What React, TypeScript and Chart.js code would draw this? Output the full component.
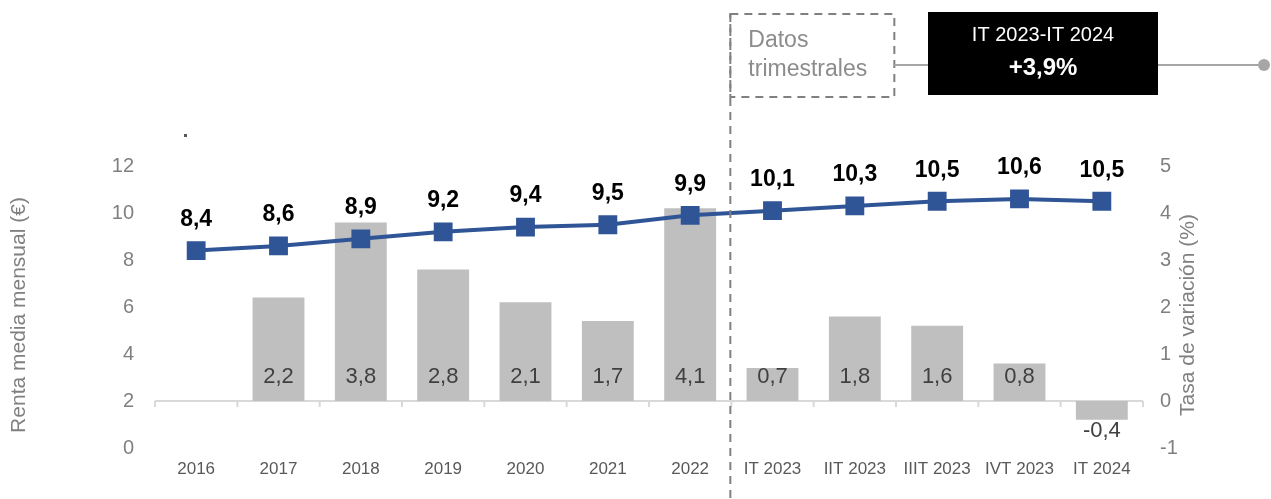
import React, { useEffect, useRef } from "react";
import { Chart, registerables } from "chart.js";

Chart.register(...registerables);

const categories = ["2016", "2017", "2018", "2019", "2020", "2021", "2022", "IT 2023", "IIT 2023", "IIIT 2023", "IVT 2023", "IT 2024"];
const rentaMedia = [8.4, 8.6, 8.9, 9.2, 9.4, 9.5, 9.9, 10.1, 10.3, 10.5, 10.6, 10.5];
const tasaVariacion: (number | null)[] = [null, 2.2, 3.8, 2.8, 2.1, 1.7, 4.1, 0.7, 1.8, 1.6, 0.8, -0.4];
const leftTicks = [0, 2, 4, 6, 8, 10, 12];
const rightTicks = [-1, 0, 1, 2, 3, 4, 5];
const boxTitle = "IT 2023-IT 2024";
const boxValue = "+3,9%";
const noteLines = ["Datos", "trimestrales"];

const FONT = "'Liberation Sans', Arial, sans-serif";
const fmt = (v: number) => v.toFixed(1).replace(".", ",");

const overlayPlugin = {
  id: "overlay",
  beforeDatasetsDraw(chart: any) {
    const ctx = chart.ctx;
    const yR = chart.scales.yR;
    const z = yR.getPixelForValue(0);
    const ca = chart.chartArea;
    ctx.save();
    ctx.strokeStyle = "#d9d9d9";
    ctx.lineWidth = 2;
    ctx.beginPath();
    ctx.moveTo(ca.left, z);
    ctx.lineTo(ca.right, z);
    const n = categories.length;
    const step = (ca.right - ca.left) / n;
    for (let i = 0; i <= n; i++) {
      const px = ca.left + i * step;
      ctx.moveTo(px, z);
      ctx.lineTo(px, z + 6);
    }
    ctx.stroke();
    ctx.restore();
  },
  afterDraw(chart: any) {
    const ctx = chart.ctx;
    const x = chart.scales.x;
    const yR = chart.scales.yR;
    const ca = chart.chartArea;
    const z = yR.getPixelForValue(0);
    ctx.save();

    // line labels
    const lineMeta = chart.getDatasetMeta(1);
    ctx.font = `bold 23px ${FONT}`;
    ctx.fillStyle = "#000000";
    ctx.textAlign = "center";
    ctx.textBaseline = "middle";
    lineMeta.data.forEach((pt: any, i: number) => {
      ctx.fillText(fmt(rentaMedia[i]), pt.x, pt.y - 31);
    });

    // bar labels
    const barMeta = chart.getDatasetMeta(0);
    ctx.font = `22px ${FONT}`;
    ctx.fillStyle = "#404040";
    barMeta.data.forEach((bar: any, i: number) => {
      const v = tasaVariacion[i];
      if (v === null || v === undefined) return;
      const yy = v >= 0 ? z - 24 : bar.y + 11;
      ctx.fillText(fmt(v), bar.x, yy);
    });

    // axis titles
    ctx.fillStyle = "#808080";
    ctx.font = `21px ${FONT}`;
    const midY = (ca.top + ca.bottom) / 2 + 8;
    ctx.save();
    ctx.translate(19, midY);
    ctx.rotate(-Math.PI / 2);
    ctx.fillText("Renta media mensual (€)", 0, 0);
    ctx.restore();
    ctx.save();
    ctx.translate(1188, midY);
    ctx.rotate(-Math.PI / 2);
    ctx.fillText("Tasa de variación (%)", 0, 0);
    ctx.restore();

    // dashed separator
    const sepX = (x.getPixelForValue(6) + x.getPixelForValue(7)) / 2 - 1;
    ctx.strokeStyle = "#808080";
    ctx.lineWidth = 2;
    ctx.setLineDash([8, 6]);
    ctx.beginPath();
    ctx.moveTo(sepX, 14);
    ctx.lineTo(sepX, 499);
    ctx.stroke();
    // dashed note box
    ctx.strokeRect(sepX, 14, 164, 83);
    ctx.setLineDash([]);
    ctx.fillStyle = "#8c8c8c";
    ctx.font = `23px ${FONT}`;
    ctx.textAlign = "left";
    ctx.fillText(noteLines[0], sepX + 18, 41);
    ctx.fillText(noteLines[1], sepX + 18, 70);

    // connectors
    ctx.strokeStyle = "#a6a6a6";
    ctx.lineWidth = 2;
    ctx.beginPath();
    ctx.moveTo(sepX + 164, 65);
    ctx.lineTo(928, 65);
    ctx.moveTo(1158, 65);
    ctx.lineTo(1262, 65);
    ctx.stroke();
    ctx.fillStyle = "#a6a6a6";
    ctx.beginPath();
    ctx.arc(1264, 65, 6, 0, Math.PI * 2);
    ctx.fill();

    // black box
    ctx.fillStyle = "#000000";
    ctx.fillRect(928, 12, 230, 83);
    ctx.fillStyle = "#ffffff";
    ctx.textAlign = "center";
    ctx.font = `20px ${FONT}`;
    ctx.fillText(boxTitle, 1043, 35);
    ctx.font = `bold 24px ${FONT}`;
    ctx.fillText(boxValue, 1043, 68);

    // small dot artifact
    ctx.fillStyle = "#595959";
    ctx.fillRect(184, 134, 3, 3);

    ctx.restore();
  },
};

export default function App() {
  const ref = useRef<HTMLCanvasElement>(null);
  useEffect(() => {
    if (!ref.current) return;
    const chart = new Chart(ref.current, {
      type: "bar",
      data: {
        labels: categories,
        datasets: [
          {
            type: "bar",
            data: tasaVariacion as any,
            yAxisID: "yR",
            backgroundColor: "#bfbfbf",
            categoryPercentage: 1,
            barPercentage: 0.63,
            order: 2,
          },
          {
            type: "line",
            data: rentaMedia,
            yAxisID: "yL",
            borderColor: "#2f5597",
            backgroundColor: "#2f5597",
            borderWidth: 4,
            pointStyle: "rect",
            pointRadius: 10.5,
            pointHoverRadius: 10.5,
            tension: 0,
            order: 1,
          } as any,
        ],
      },
      options: {
        responsive: false,
        animation: false,
        layout: { padding: { top: 166, left: 0, right: 0, bottom: 0 } },
        plugins: { legend: { display: false }, tooltip: { enabled: false } },
        scales: {
          x: {
            grid: { display: false, drawTicks: false },
            border: { display: false },
            ticks: { color: "#595959", font: { family: FONT, size: 17 }, padding: 11, maxRotation: 0, autoSkip: false },
            afterFit: (s: any) => { s.height = 51; },
          },
          yL: {
            position: "left",
            min: 0,
            max: 12,
            afterBuildTicks: (s: any) => { s.ticks = leftTicks.map((v) => ({ value: v })); },
            grid: { display: false, drawTicks: false },
            border: { display: false },
            ticks: { color: "#808080", font: { family: FONT, size: 20 }, padding: 21 },
            afterFit: (s: any) => { s.width = 155; },
          },
          yR: {
            position: "right",
            min: -1,
            max: 5,
            afterBuildTicks: (s: any) => { s.ticks = rightTicks.map((v) => ({ value: v })); },
            grid: { display: false, drawTicks: false },
            border: { display: false },
            ticks: { color: "#808080", font: { family: FONT, size: 20 }, padding: 17 },
            afterFit: (s: any) => { s.width = 128; },
          },
        },
      },
      plugins: [overlayPlugin],
    });
    return () => chart.destroy();
  }, []);
  return (
    <div style={{ position: "fixed", left: 0, top: 0, width: 1271, height: 499, background: "#fff" }}>
      <canvas ref={ref} width={1271} height={499} style={{ width: 1271, height: 499 }} />
    </div>
  );
}
